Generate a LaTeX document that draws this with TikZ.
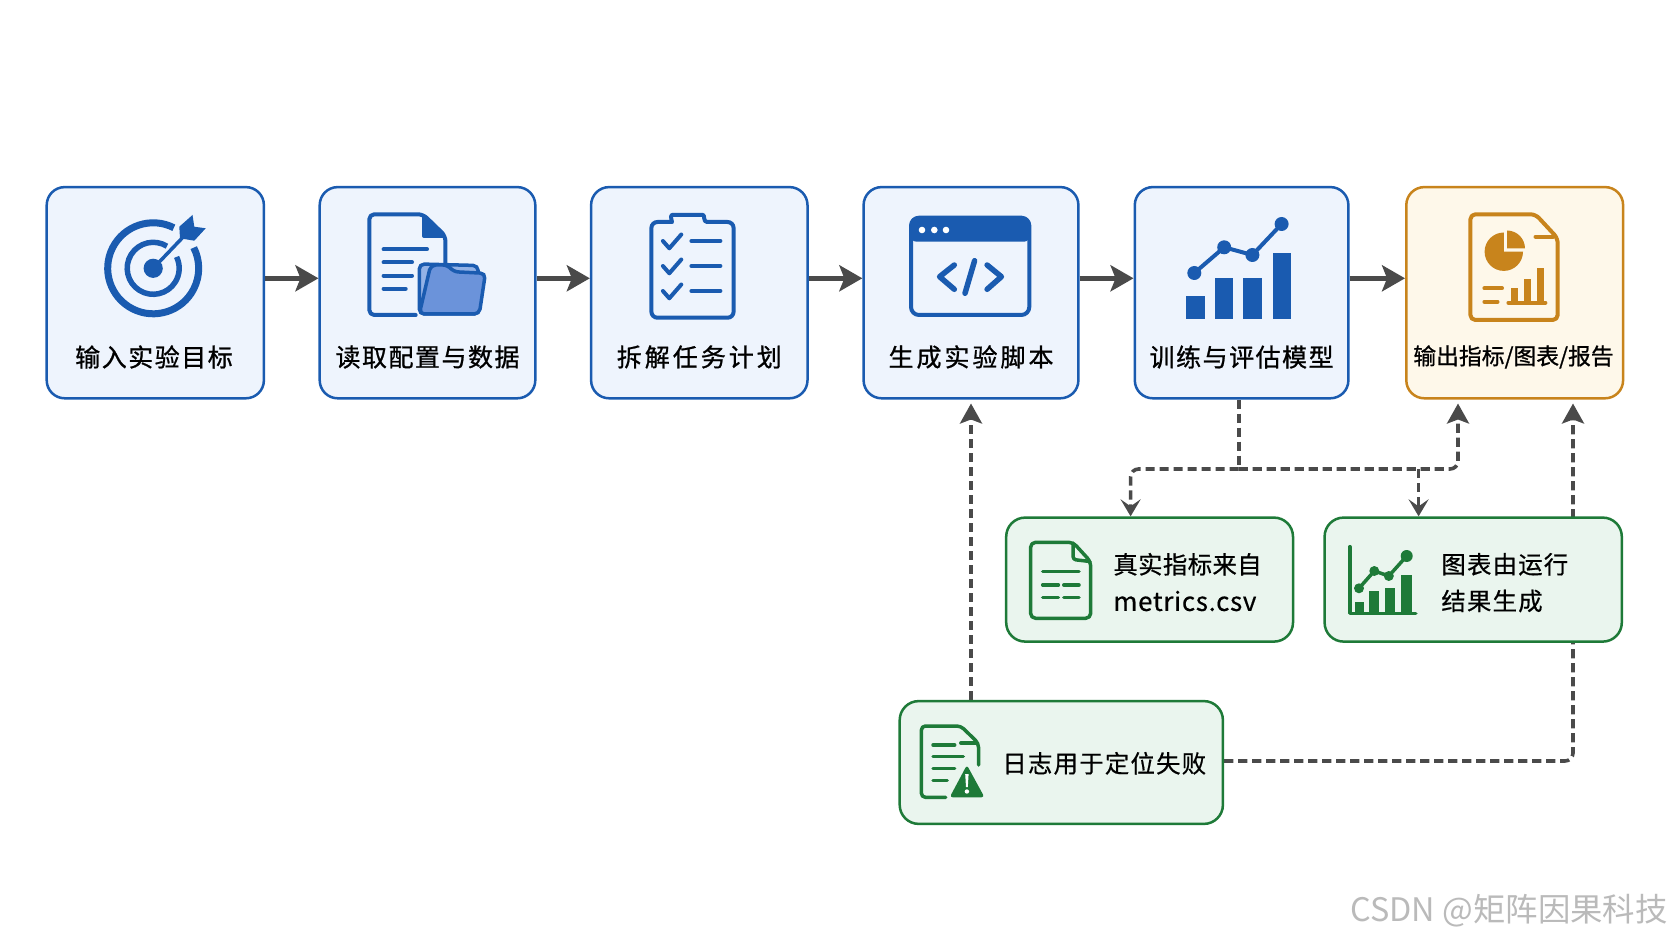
\documentclass[tikz,border=0pt]{standalone}
\usepackage{fontspec}
\setmainfont{Noto Sans CJK SC}
\newfontfamily\lab[LetterSpace=6,FakeBold=0.9]{Noto Sans CJK SC}
\newfontfamily\labwide[LetterSpace=12,FakeBold=0.9]{Noto Sans CJK SC}
\newfontfamily\labtight[FakeBold=0.9]{Noto Sans CJK SC}
\newfontfamily\sidetwo[LetterSpace=1.5,FakeBold=0.6]{Noto Sans CJK SC}
\newfontfamily\sidefive[LetterSpace=5,FakeBold=0.6]{Noto Sans CJK SC}
\newfontfamily\sidelatin[LetterSpace=2.5,FakeBold=0.4]{Noto Sans CJK SC}
\newfontfamily\markfont{Noto Sans CJK SC}
\usetikzlibrary{arrows.meta,backgrounds}
\definecolor{blueline}{HTML}{1A5BB0}
\definecolor{bluefill}{HTML}{EEF4FD}
\definecolor{folderfront}{HTML}{6B93DA}
\definecolor{folderback}{HTML}{93B2E6}
\definecolor{orangeline}{HTML}{C8841C}
\definecolor{orangefill}{HTML}{FEF8EA}
\definecolor{greenline}{HTML}{1E7A38}
\definecolor{greenfill}{HTML}{EAF5EE}
\definecolor{flowgray}{HTML}{4A4A4A}
\tikzset{
  x=0.5pt,y=-0.5pt,
  bluebox/.style={draw=blueline,fill=bluefill,line width=1.25pt,rounded corners=9pt,inner sep=0pt},
  orangebox/.style={draw=orangeline,fill=orangefill,line width=1.25pt,rounded corners=9pt,inner sep=0pt},
  greenbox/.style={draw=greenline,fill=greenfill,line width=1.25pt,rounded corners=9.5pt,inner sep=0pt},
  toplabel/.style={font=\lab\fontsize{12.5}{14}\selectfont,text=black,inner sep=0pt},
  widelabel/.style={font=\labwide\fontsize{12.5}{14}\selectfont,text=black,inner sep=0pt},
  sidelabel/.style={font=\sidefive\fontsize{12.2}{14}\selectfont,text=black,inner sep=0pt,anchor=west},
  flow/.style={draw=flowgray,line width=2.4pt,-{Stealth[length=11.5pt,width=13pt,inset=2.5pt]}},
  dashflow/.style={draw=flowgray,line width=1.8pt,dash pattern=on 4.6pt off 2.4pt,rounded corners=4pt},
  uptip/.style={-{Stealth[length=10pt,width=11pt,inset=2pt]}},
  downtip/.style={-{Stealth[length=8.5pt,width=10pt,inset=3.5pt]}},
  ib/.style={draw=blueline,line width=2pt,line cap=round,line join=round},
  io/.style={draw=orangeline,line width=2pt,line cap=round,line join=round},
  ig/.style={draw=greenline,line width=1.75pt,line cap=round,line join=round},
}
\begin{document}
\begin{tikzpicture}
\useasboundingbox (0,0) rectangle (1672,941);

% boxes
\node[bluebox,minimum width=108.6pt,minimum height=105.6pt] (b1) at (155.3,292.7) {};
\node[bluebox,minimum width=107.8pt,minimum height=105.6pt] (b2) at (427.5,292.7) {};
\node[bluebox,minimum width=108.2pt,minimum height=105.6pt] (b3) at (699.3,292.7) {};
\node[bluebox,minimum width=107.4pt,minimum height=105.6pt] (b4) at (971,292.7) {};
\node[bluebox,minimum width=106.8pt,minimum height=105.6pt] (b5) at (1241.6,292.7) {};
\node[orangebox,minimum width=108.4pt,minimum height=105.6pt] (b6) at (1514.7,292.7) {};
\node[greenbox,minimum width=143.4pt,minimum height=62pt] (g1) at (1149.6,579.6) {};
\node[greenbox,minimum width=148.6pt,minimum height=62pt] (g2) at (1473.2,579.6) {};
\node[greenbox,minimum width=161.6pt,minimum height=61.4pt] (g3) at (1061.3,762.5) {};

% labels
\node[toplabel] (t1) at (154,357) {输入实验目标};
\node[toplabel] (t2) at (427.5,357) {读取配置与数据};
\node[widelabel] (t3) at (699.3,357) {拆解任务计划};
\node[widelabel] (t4) at (971,357) {生成实验脚本};
\node[toplabel] (t5) at (1241.6,357) {训练与评估模型};
\node[toplabel,font=\labtight\fontsize{11.4}{14}\selectfont] (t6) at (1513.5,357) {输出指标/图表/报告};
\node[sidelabel,font=\sidetwo\fontsize{12.2}{14}\selectfont] (t7) at (1113,564.3) {真实指标来自};
\node[sidelabel,font=\sidelatin\fontsize{13}{15}\selectfont] (t8) at (1113,601) {metrics.csv};
\node[sidelabel] (t9) at (1441,564.3) {图表由运行};
\node[sidelabel] (t10) at (1441,601) {结果生成};
\node[sidelabel] (t11) at (1002,763.3) {日志用于定位失败};
\node[anchor=east,inner sep=0pt,text=black!27,font=\markfont\fontsize{16.2}{18}\selectfont] (wm) at (1668,911) {CSDN @矩阵因果科技};

% connectors
\draw[flow] ([yshift=7.2pt]b1.east) -- ([yshift=7.2pt]b2.west);
\draw[flow] ([yshift=7.2pt]b2.east) -- ([yshift=7.2pt]b3.west);
\draw[flow] ([yshift=7.2pt]b3.east) -- ([yshift=7.2pt]b4.west);
\draw[flow] ([yshift=7.2pt]b4.east) -- ([yshift=7.2pt]b5.west);
\draw[flow] ([yshift=7.2pt]b5.east) -- ([yshift=7.2pt]b6.west);

\coordinate (j1) at (1238.7,469);
\coordinate (jl) at (1130.6,469);
\coordinate (jm) at (1418.6,469);
\coordinate (jr) at (1458,469);
\coordinate (up6a) at (1458,403.5);
\coordinate (up6b) at (1573,403.5);
\coordinate (elbow) at (1573,761);
\coordinate (up4) at (971,403.5);

\begin{scope}[on background layer]
\fill[white] (0,0) rectangle (1672,941);
\draw[dashflow] (j1 |- b5.south) -- (j1);
\draw[dashflow,downtip] (j1) -- (jl) -- (jl |- g1.north);
\draw[dashflow,uptip] (j1) -- (jr) -- (up6a);
\draw[dashflow,downtip] (jm) -- (jm |- g2.north);
\draw[dashflow,uptip] (g3.east |- elbow) -- (elbow) -- (up6b);
\draw[dashflow,uptip] (up4 |- g3.north) -- (up4);
\end{scope}

% icon 1: target
\draw[blueline,line width=3.5pt] (153.2,268.3) ++(63:22.75pt) arc[start angle=63,end angle=387,radius=22.75pt];
\draw[blueline,line width=2.75pt] (153.2,268.3) ++(58:13pt) arc[start angle=58,end angle=386,radius=13pt];
\fill[blueline] (153.2,268.3) circle[radius=9.6];
\draw[blueline,line width=1.75pt] (153.2,268.3) -- (187,233);
\fill[blueline] (192.5,215) -- (194.3,226.7) -- (205.7,228.3) -- (194.3,240.7) -- (180,238.3) -- (179.3,226.7) -- cycle;

% icon 2: document and folder
\draw[ib,rounded corners=2.5pt] (415.7,315) -- (369.3,315) -- (369.3,214.3) -- (423,214.3) -- (445.4,236) -- (445.4,263);
\fill[blueline,rounded corners=1pt] (422,215) -- (422,238) -- (445,238) -- cycle;
\foreach \yy/\xx in {249.3/427,262.3/412,275.7/412,288.7/405.7}
  \draw[ib] (383.6,\yy) -- (\xx,\yy);
\fill[folderback,draw=blueline,line width=1.75pt,rounded corners=2.5pt] (419.3,314) -- (419.3,264) -- (478,265.5) -- (479,314) -- cycle;
\fill[folderfront,draw=blueline,line width=1.75pt,rounded corners=2.5pt] (430.7,265) -- (447.9,265) -- (453.2,271.7) -- (485.4,273.3) -- (479.3,314) -- (419.3,314) -- cycle;

% icon 3: clipboard
\draw[ib,rounded corners=3pt] (651.4,222) -- (666,222) .. controls (672,222) and (670,215) .. (678,215) -- (697,215) .. controls (705,215) and (703,222) .. (713,222) -- (733.6,222) -- (733.6,317.7) -- (651.4,317.7) -- cycle;
\foreach \dy in {0,25,50} {
  \draw[ib] (662.9,241+\dy) -- (669.3,248.3+\dy) -- (681.3,234.5+\dy);
  \draw[ib] (691.4,241+\dy) -- (720.4,241+\dy);
}

% icon 4: window
\draw[ib,rounded corners=4pt] (911,217.7) rectangle (1029.3,315);
\fill[blueline,rounded corners=3pt] (910.5,241.7) -- (910.5,217) -- (1029.8,217) -- (1029.8,241.7) -- cycle;
\foreach \xx in {922,934.3,946} \fill[white] (\xx,230) circle[radius=3.3];
\draw[blueline,line width=2.75pt,line cap=round,line join=round] (954.3,265) -- (939.6,276.7) -- (954.3,289.3);
\draw[blueline,line width=2.75pt,line cap=round,line join=round] (987.1,265) -- (1001.4,276.7) -- (987.1,289.3);
\draw[blueline,line width=2.75pt,line cap=round] (974.6,260.7) -- (965,293.3);

% icon 5: bars and trend
\fill[blueline] (1185.8,296) rectangle (1204.5,319);
\fill[blueline] (1215,277.7) rectangle (1232.7,319);
\fill[blueline] (1243.2,277.7) rectangle (1261.5,319);
\fill[blueline] (1272.5,252.7) rectangle (1290.8,319);
\draw[ib] (1194.3,273) -- (1224.2,247.3) -- (1252.4,255) -- (1281.6,224);
\foreach \pp in {(1194.3,273),(1224.2,247.3),(1252.4,255),(1281.6,224)} \fill[blueline] \pp circle[radius=7];

% icon 6: report
\draw[io,rounded corners=2.5pt] (1470.4,214.3) -- (1535.5,214.3) -- (1557.7,238.3) -- (1557.7,320) -- (1470.4,320) -- cycle;
\draw[io] (1535.5,236.7) -- (1553,236.7);
\fill[orangeline] (1503.8,251.7) -- ++(90:9.6pt) arc[start angle=90,end angle=360,radius=9.6pt] -- cycle;
\fill[orangeline] (1507,248.5) -- ++(0:9pt) arc[start angle=0,end angle=90,radius=9pt] -- cycle;
\fill[orangeline] (1510.6,288.3) rectangle (1518,302.7);
\fill[orangeline] (1524,279.3) rectangle (1531,302.7);
\fill[orangeline] (1537,268.3) rectangle (1544.4,302.7);
\draw[io] (1508.4,302.7) -- (1545.4,302.7);
\draw[io] (1484.4,288.3) -- (1502,288.3);
\draw[io] (1484.4,301.7) -- (1497.5,301.7);

% icon g1: csv document
\draw[ig,rounded corners=2.5pt] (1030.6,542.3) -- (1073,542.3) -- (1090.7,561.7) -- (1090.7,618.3) -- (1030.6,618.3) -- cycle;
\draw[ig,rounded corners=1.5pt] (1073,543) -- (1073,559.5) -- (1090,561.5);
\draw[ig] (1042.7,571.7) -- (1079,571.7);
\foreach \yy in {585,597.7} {
  \draw[ig] (1042.7,\yy) -- (1058.4,\yy);
  \draw[ig] (1063.8,\yy) -- (1079,\yy);
}

% icon g2: chart
\draw[ig] (1349.9,546.7) -- (1349.9,613.3) -- (1415.8,613.3);
\fill[greenline] (1354.8,601.7) rectangle (1364,613);
\fill[greenline] (1369.4,590.7) rectangle (1378.9,613);
\fill[greenline] (1385,588.3) rectangle (1395,613);
\fill[greenline] (1401.3,575) rectangle (1411.6,613);
\draw[ig] (1359,588.3) -- (1374.3,571) -- (1388.8,576) -- (1406.7,556);
\foreach \pp/\rr in {(1359,588.3)/5,(1374.3,571)/5,(1388.8,576)/5,(1406.7,556)/6} \fill[greenline] \pp circle[radius=\rr];

% icon g3: log with warning
\draw[ig,rounded corners=2pt] (945.7,797.3) -- (921.4,797.3) -- (921.4,726) -- (960.8,726) -- (978.5,743.3) -- (978.5,765);
\draw[ig] (960.8,743) -- (976,743);
\foreach \yy/\xx in {745/954.7,756.7/963.3,768.3/954.7,780.7/947.2}
  \draw[ig] (933,\yy) -- (\xx,\yy);
\fill[greenline,rounded corners=1.5pt] (966.9,765) -- (949.7,797.3) -- (984.5,797.3) -- cycle;
\fill[white] (965.2,774) -- (968.6,774) -- (967.8,787) -- (966,787) -- cycle;
\fill[white] (966.9,791.5) circle[radius=2.2];
\end{tikzpicture}
\end{document}
